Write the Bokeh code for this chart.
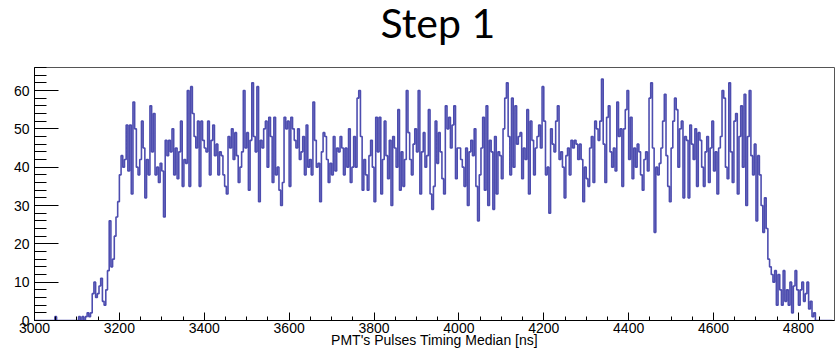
from bokeh.plotting import figure
from bokeh.models import Range1d, SingleIntervalTicker
from bokeh.layouts import column
from bokeh.core.properties import value
from bokeh.embed import file_html
from bokeh.resources import INLINE

# Histogram: bin width 4 ns starting at 3000 ns
bin_start = 3000
bin_width = 4

counts_3000_3200 = [0, 0, 0, 0, 0, 0, 0, 0, 0, 0,
                    0, 0, 1, 0, 0, 0, 0, 0, 0, 0,
                    0, 0, 0, 0, 0, 0, 1, 0, 1, 0,
                    1, 2, 1, 2, 7, 10, 6, 7, 9, 11,
                    5, 4, 8, 13, 26, 14, 16, 22, 27, 31]
counts_3200_3400 = [38, 43, 40, 42, 51, 39, 51, 33, 57, 50,
                    40, 38, 42, 52, 45, 32, 42, 38, 56, 44,
                    54, 38, 40, 36, 41, 39, 27, 47, 43, 47,
                    44, 50, 38, 45, 37, 44, 52, 35, 42, 41,
                    60, 35, 61, 54, 48, 45, 52, 35, 52, 47]
counts_3400_3600 = [45, 44, 52, 38, 47, 51, 43, 46, 38, 44,
                    43, 38, 35, 33, 48, 45, 50, 42, 49, 43,
                    36, 40, 44, 60, 45, 49, 34, 47, 62, 48,
                    44, 61, 31, 47, 45, 50, 52, 40, 53, 48,
                    36, 53, 38, 40, 34, 30, 36, 53, 50, 52]
counts_3600_3800 = [35, 53, 50, 47, 45, 50, 42, 44, 48, 38,
                    51, 40, 42, 38, 57, 47, 40, 41, 31, 44,
                    49, 48, 42, 36, 41, 38, 48, 39, 45, 44,
                    48, 45, 38, 45, 40, 50, 36, 40, 48, 40,
                    58, 60, 48, 34, 42, 38, 34, 43, 47, 40]
counts_3800_4000 = [31, 53, 44, 53, 33, 42, 52, 43, 37, 47,
                    30, 48, 45, 40, 55, 34, 44, 35, 42, 60,
                    49, 42, 38, 46, 50, 44, 60, 33, 44, 49,
                    40, 43, 55, 33, 29, 35, 52, 41, 49, 44,
                    37, 33, 56, 50, 53, 45, 51, 56, 37, 45]
counts_4000_4200 = [45, 42, 40, 35, 45, 30, 44, 47, 43, 50,
                    35, 26, 38, 45, 53, 34, 56, 30, 47, 44,
                    29, 48, 33, 44, 43, 37, 50, 58, 62, 48,
                    38, 58, 40, 56, 46, 48, 49, 37, 45, 42,
                    55, 33, 52, 47, 38, 45, 48, 51, 45, 61]
counts_4200_4400 = [52, 38, 40, 28, 50, 46, 44, 52, 56, 42,
                    44, 40, 32, 43, 45, 38, 47, 45, 47, 46,
                    42, 46, 42, 31, 40, 37, 35, 45, 48, 36,
                    52, 50, 47, 52, 63, 46, 36, 53, 56, 44,
                    40, 45, 39, 57, 48, 50, 35, 50, 55, 60]
counts_4400_4600 = [42, 53, 37, 45, 40, 46, 44, 38, 34, 42,
                    44, 39, 58, 62, 45, 23, 40, 38, 41, 45,
                    52, 59, 43, 35, 31, 45, 52, 58, 55, 40,
                    50, 52, 32, 48, 47, 32, 51, 46, 42, 50,
                    35, 49, 47, 40, 35, 44, 48, 36, 45, 52]
counts_4600_4800 = [39, 44, 33, 45, 48, 60, 58, 40, 37, 62,
                    44, 36, 52, 54, 33, 48, 56, 40, 59, 30,
                    48, 60, 43, 38, 46, 26, 43, 38, 30, 23,
                    32, 24, 16, 14, 12, 10, 13, 4, 12, 8,
                    4, 13, 5, 8, 4, 10, 2, 9, 13, 8]
counts_4800_4880 = [4, 8, 10, 5, 7, 10, 3, 5, 1, 2,
                    0, 0, 0, 0, 0, 0, 0, 0, 0, 0]

x_ticks_interval = 200
y_ticks_interval = 10
x_label = "PMT's Pulses Timing Median [ns]"
title_text = "Step 1"

counts = (counts_3000_3200 + counts_3200_3400 + counts_3400_3600 + counts_3600_3800
          + counts_3800_4000 + counts_4000_4200 + counts_4200_4400 + counts_4400_4600
          + counts_4600_4800 + counts_4800_4880)
edges = [bin_start + bin_width * i for i in range(len(counts) + 1)]
ys = counts + [counts[-1]]

# --- title strip (a figure of its own) ---
head = figure(width=835, height=64, output_backend="svg", toolbar_location=None,
              x_range=Range1d(0, 835), y_range=Range1d(0, 64),
              x_axis_type=None, y_axis_type=None,
              min_border=0, min_border_left=0, min_border_right=0,
              min_border_top=0, min_border_bottom=0)
head.outline_line_color = None
head.xgrid.visible = False
head.ygrid.visible = False
head.background_fill_color = "white"
head.border_fill_color = "white"
head.text(x=[421], y=[42], text=[title_text], text_align="center",
          text_baseline="alphabetic", text_font=value("Lato"),
          text_font_size="41px", text_color="black")

# --- histogram ---
p = figure(width=835, height=289, output_backend="svg", toolbar_location=None,
           x_range=Range1d(3000, 4885), y_range=Range1d(0, 66),
           min_border_left=34, min_border_right=1, min_border_top=3, min_border_bottom=33)
p.background_fill_color = "white"
p.border_fill_color = "white"
p.outline_line_color = "#555555"
p.outline_line_width = 1
p.xgrid.visible = False
p.ygrid.visible = False

p.step(edges, ys, mode="after", line_color="#3434a4", line_width=1.6, line_alpha=0.88)

xa = p.xaxis[0]
xa.ticker = SingleIntervalTicker(interval=x_ticks_interval, num_minor_ticks=4)
xa.major_tick_in = 8
xa.major_tick_out = 0
xa.minor_tick_in = 4
xa.minor_tick_out = 0
xa.axis_line_color = "black"
xa.major_label_text_font = "Liberation Sans"
xa.major_label_text_font_size = "14px"
xa.major_label_text_color = "black"
xa.major_label_standoff = 2
xa.axis_label = x_label
xa.axis_label_text_font = "Liberation Sans"
xa.axis_label_text_font_size = "14px"
xa.axis_label_text_font_style = "normal"
xa.axis_label_text_color = "black"
xa.axis_label_standoff = -4

ya = p.yaxis[0]
ya.ticker = SingleIntervalTicker(interval=y_ticks_interval, num_minor_ticks=5)
ya.major_tick_in = 24
ya.major_tick_out = 0
ya.minor_tick_in = 12
ya.minor_tick_out = 0
ya.axis_line_color = "black"
ya.major_label_text_font = "Liberation Sans"
ya.major_label_text_font_size = "14px"
ya.major_label_text_color = "black"
ya.major_label_standoff = 5

layout = column(head, p, spacing=0)
open("out.html", "w").write(file_html(layout, INLINE))
